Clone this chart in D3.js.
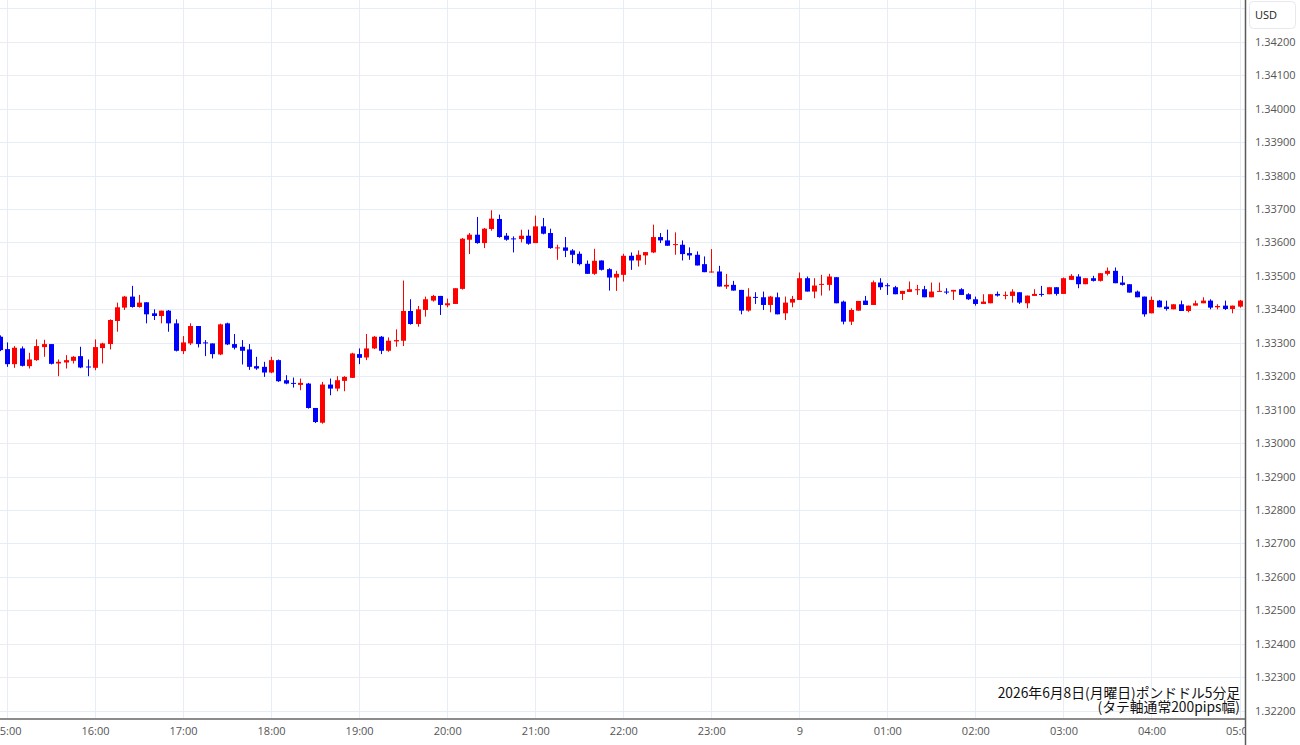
<!DOCTYPE html>
<html>
<head>
<meta charset="utf-8">
<script src="https://cdn.jsdelivr.net/npm/d3@7"></script>
<style>
  body { margin: 0; background: #fff; }
  .axis-label { font-family: "Open Sans", "Noto Sans", sans-serif; font-size: 11px; fill: #555; }
  .note { font-family: "Noto Sans CJK JP", sans-serif; font-size: 13.8px; fill: #111; }
</style>
</head>
<body>
<div id="chart"></div>
<script>
// 5-minute candles, first one at 14:55 (2026-06-08)
const startTime = new Date(2026, 5, 8, 14, 55);

const opens = [
  1.33318, 1.33281, 1.33236, 1.33283, 1.33230, 1.33248, 1.33287, 1.33296, 1.33238, 1.33241,
  1.33246, 1.33260, 1.33229, 1.33225, 1.33284, 1.33296, 1.33365, 1.33405, 1.33438, 1.33407,
  1.33421, 1.33388, 1.33380, 1.33396, 1.33358, 1.33275, 1.33298, 1.33350, 1.33301, 1.33298,
  1.33265, 1.33358, 1.33296, 1.33288, 1.33280, 1.33230, 1.33228, 1.33211, 1.33248, 1.33188,
  1.33180, 1.33174, 1.33178, 1.33105, 1.33061, 1.33175, 1.33163, 1.33186, 1.33195, 1.33266,
  1.33256, 1.33283, 1.33318, 1.33276, 1.33304, 1.33306, 1.33395, 1.33356, 1.33398, 1.33426,
  1.33440, 1.33412, 1.33416, 1.33461, 1.33608, 1.33623, 1.33598, 1.33640, 1.33670, 1.33620,
  1.33612, 1.33610, 1.33620, 1.33598, 1.33648, 1.33628, 1.33583, 1.33585, 1.33576, 1.33566,
  1.33536, 1.33506, 1.33546, 1.33520, 1.33495, 1.33503, 1.33560, 1.33546, 1.33561, 1.33570,
  1.33616, 1.33606, 1.33592, 1.33593, 1.33568, 1.33563, 1.33535, 1.33510, 1.33513, 1.33468,
  1.33473, 1.33458, 1.33396, 1.33437, 1.33436, 1.33413, 1.33436, 1.33388, 1.33420, 1.33428,
  1.33493, 1.33453, 1.33474, 1.33473, 1.33496, 1.33423, 1.33363, 1.33396, 1.33426, 1.33413,
  1.33480, 1.33472, 1.33466, 1.33446, 1.33452, 1.33458, 1.33460, 1.33436, 1.33452, 1.33453,
  1.33453, 1.33460, 1.33445, 1.33430, 1.33416, 1.33418, 1.33446, 1.33441, 1.33440, 1.33451,
  1.33418, 1.33440, 1.33446, 1.33445, 1.33466, 1.33446, 1.33488, 1.33498, 1.33475, 1.33493,
  1.33485, 1.33506, 1.33515, 1.33480, 1.33475, 1.33453, 1.33438, 1.33388, 1.33426, 1.33408,
  1.33400, 1.33415, 1.33395, 1.33411, 1.33418, 1.33426, 1.33406, 1.33411, 1.33401, 1.33408,
  1.33426
];
const highs = [
  1.33322, 1.33301, 1.33290, 1.33289, 1.33270, 1.33310, 1.33309, 1.33296, 1.33250, 1.33263,
  1.33260, 1.33288, 1.33250, 1.33310, 1.33300, 1.33370, 1.33420, 1.33440, 1.33470, 1.33443,
  1.33421, 1.33400, 1.33396, 1.33398, 1.33370, 1.33320, 1.33358, 1.33350, 1.33308, 1.33298,
  1.33357, 1.33360, 1.33326, 1.33308, 1.33296, 1.33258, 1.33243, 1.33258, 1.33250, 1.33203,
  1.33196, 1.33193, 1.33180, 1.33105, 1.33183, 1.33193, 1.33200, 1.33200, 1.33270, 1.33283,
  1.33326, 1.33320, 1.33320, 1.33316, 1.33340, 1.33486, 1.33430, 1.33410, 1.33438, 1.33443,
  1.33440, 1.33432, 1.33463, 1.33613, 1.33628, 1.33676, 1.33643, 1.33696, 1.33683, 1.33628,
  1.33618, 1.33638, 1.33638, 1.33680, 1.33673, 1.33641, 1.33593, 1.33616, 1.33580, 1.33573,
  1.33546, 1.33581, 1.33546, 1.33523, 1.33515, 1.33566, 1.33570, 1.33576, 1.33571, 1.33653,
  1.33628, 1.33638, 1.33630, 1.33606, 1.33585, 1.33573, 1.33558, 1.33580, 1.33530, 1.33506,
  1.33485, 1.33458, 1.33463, 1.33451, 1.33453, 1.33440, 1.33450, 1.33438, 1.33440, 1.33510,
  1.33498, 1.33493, 1.33503, 1.33506, 1.33496, 1.33426, 1.33403, 1.33425, 1.33440, 1.33486,
  1.33493, 1.33478, 1.33470, 1.33455, 1.33483, 1.33473, 1.33470, 1.33480, 1.33480, 1.33463,
  1.33458, 1.33463, 1.33448, 1.33438, 1.33445, 1.33445, 1.33453, 1.33453, 1.33460, 1.33451,
  1.33441, 1.33460, 1.33470, 1.33466, 1.33466, 1.33495, 1.33505, 1.33505, 1.33493, 1.33500,
  1.33508, 1.33525, 1.33525, 1.33500, 1.33475, 1.33456, 1.33438, 1.33438, 1.33428, 1.33426,
  1.33415, 1.33426, 1.33411, 1.33426, 1.33436, 1.33430, 1.33415, 1.33426, 1.33411, 1.33428,
  1.33430
];
const lows = [
  1.33275, 1.33228, 1.33225, 1.33229, 1.33223, 1.33246, 1.33258, 1.33235, 1.33200, 1.33223,
  1.33238, 1.33224, 1.33200, 1.33218, 1.33238, 1.33280, 1.33333, 1.33398, 1.33405, 1.33405,
  1.33358, 1.33368, 1.33358, 1.33333, 1.33274, 1.33266, 1.33293, 1.33286, 1.33260, 1.33253,
  1.33263, 1.33293, 1.33280, 1.33235, 1.33219, 1.33219, 1.33198, 1.33209, 1.33183, 1.33176,
  1.33166, 1.33158, 1.33103, 1.33060, 1.33058, 1.33143, 1.33155, 1.33155, 1.33195, 1.33236,
  1.33248, 1.33281, 1.33266, 1.33273, 1.33288, 1.33290, 1.33354, 1.33348, 1.33378, 1.33423,
  1.33383, 1.33406, 1.33416, 1.33459, 1.33565, 1.33596, 1.33583, 1.33635, 1.33614, 1.33605,
  1.33570, 1.33600, 1.33593, 1.33598, 1.33624, 1.33581, 1.33548, 1.33556, 1.33538, 1.33531,
  1.33506, 1.33503, 1.33516, 1.33456, 1.33455, 1.33483, 1.33518, 1.33528, 1.33533, 1.33568,
  1.33598, 1.33590, 1.33563, 1.33546, 1.33548, 1.33531, 1.33511, 1.33510, 1.33468, 1.33461,
  1.33456, 1.33385, 1.33393, 1.33416, 1.33398, 1.33391, 1.33385, 1.33368, 1.33406, 1.33428,
  1.33453, 1.33433, 1.33441, 1.33456, 1.33418, 1.33355, 1.33353, 1.33396, 1.33413, 1.33413,
  1.33458, 1.33443, 1.33445, 1.33428, 1.33452, 1.33443, 1.33436, 1.33436, 1.33452, 1.33445,
  1.33428, 1.33443, 1.33428, 1.33411, 1.33416, 1.33418, 1.33438, 1.33430, 1.33420, 1.33416,
  1.33403, 1.33440, 1.33438, 1.33445, 1.33441, 1.33446, 1.33488, 1.33463, 1.33475, 1.33483,
  1.33483, 1.33501, 1.33478, 1.33471, 1.33450, 1.33436, 1.33378, 1.33388, 1.33406, 1.33396,
  1.33400, 1.33395, 1.33391, 1.33411, 1.33418, 1.33400, 1.33400, 1.33398, 1.33388, 1.33405,
  1.33415
];
const closes = [
  1.33278, 1.33236, 1.33285, 1.33231, 1.33250, 1.33290, 1.33296, 1.33237, 1.33243, 1.33248,
  1.33258, 1.33226, 1.33228, 1.33287, 1.33298, 1.33368, 1.33406, 1.33438, 1.33407, 1.33420,
  1.33385, 1.33380, 1.33396, 1.33358, 1.33276, 1.33301, 1.33350, 1.33296, 1.33298, 1.33266,
  1.33355, 1.33295, 1.33285, 1.33276, 1.33228, 1.33223, 1.33211, 1.33248, 1.33185, 1.33178,
  1.33179, 1.33180, 1.33105, 1.33063, 1.33175, 1.33163, 1.33188, 1.33198, 1.33268, 1.33255,
  1.33283, 1.33318, 1.33276, 1.33306, 1.33308, 1.33395, 1.33356, 1.33400, 1.33430, 1.33440,
  1.33413, 1.33418, 1.33463, 1.33611, 1.33623, 1.33598, 1.33641, 1.33671, 1.33616, 1.33608,
  1.33610, 1.33620, 1.33596, 1.33648, 1.33626, 1.33583, 1.33585, 1.33575, 1.33563, 1.33535,
  1.33506, 1.33545, 1.33518, 1.33495, 1.33506, 1.33560, 1.33546, 1.33563, 1.33571, 1.33616,
  1.33606, 1.33590, 1.33595, 1.33565, 1.33561, 1.33531, 1.33511, 1.33513, 1.33468, 1.33473,
  1.33456, 1.33396, 1.33438, 1.33435, 1.33413, 1.33438, 1.33385, 1.33420, 1.33431, 1.33493,
  1.33453, 1.33471, 1.33476, 1.33498, 1.33418, 1.33363, 1.33398, 1.33425, 1.33413, 1.33481,
  1.33466, 1.33471, 1.33445, 1.33455, 1.33460, 1.33460, 1.33436, 1.33453, 1.33455, 1.33451,
  1.33458, 1.33443, 1.33430, 1.33416, 1.33423, 1.33445, 1.33441, 1.33443, 1.33453, 1.33420,
  1.33441, 1.33446, 1.33444, 1.33466, 1.33446, 1.33493, 1.33500, 1.33475, 1.33493, 1.33485,
  1.33508, 1.33515, 1.33478, 1.33473, 1.33450, 1.33436, 1.33385, 1.33428, 1.33406, 1.33401,
  1.33415, 1.33395, 1.33411, 1.33418, 1.33426, 1.33405, 1.33410, 1.33401, 1.33411, 1.33426,
  1.33420
];

const priceTicks = d3.range(1.321, 1.3435, 0.001);
const noteLines = ["2026年6月8日(月曜日)ポンドドル5分足", "(タテ軸通常200pips幅)"];

class CandleChart {
  constructor(_config) {
    this.config = {
      parentElement: _config.parentElement,
      containerWidth: 1300,
      containerHeight: 745,
      plotRight: 1245,
      plotBottom: 718,
      bodyWidth: 5,
      upColor: "#ff0000",
      downColor: "#0000ff",
    };
    this.initVis();
  }

  initVis() {
    let vis = this;

    vis.svg = d3
      .select(vis.config.parentElement)
      .append("svg")
      .attr("width", vis.config.containerWidth)
      .attr("height", vis.config.containerHeight);

    // Build candle rows from the arrays
    vis.data = opens.map((o, i) => ({
      time: d3.timeMinute.offset(startTime, i * 5),
      open: o,
      high: highs[i],
      low: lows[i],
      close: closes[i],
    }));

    vis.xScale = d3
      .scaleTime()
      .domain([new Date(2026, 5, 8, 15, 0), new Date(2026, 5, 9, 5, 0)])
      .range([7, 1239.5]);

    vis.yScale = d3.scaleLinear().domain([1.322, 1.342]).range([710.7, 41.7]);

    // clip for the plotting area
    vis.svg
      .append("clipPath")
      .attr("id", "plot-clip")
      .append("rect")
      .attr("width", vis.config.plotRight)
      .attr("height", vis.config.plotBottom);

    vis.svg
      .append("clipPath")
      .attr("id", "xlabel-clip")
      .append("rect")
      .attr("width", vis.config.plotRight)
      .attr("height", vis.config.containerHeight);

    vis.gridG = vis.svg.append("g").attr("clip-path", "url(#plot-clip)");
    vis.candleG = vis.svg.append("g").attr("clip-path", "url(#plot-clip)");

    vis.renderVis();
  }

  renderVis() {
    let vis = this;
    const hours = d3.timeHour.range(vis.xScale.domain()[0], d3.timeMinute.offset(vis.xScale.domain()[1], 1));

    // Gridlines
    vis.gridG
      .selectAll(".vgrid")
      .data(hours)
      .join("line")
      .attr("class", "vgrid")
      .attr("x1", (d) => Math.round(vis.xScale(d)) + 0.5)
      .attr("x2", (d) => Math.round(vis.xScale(d)) + 0.5)
      .attr("y1", 0)
      .attr("y2", vis.config.plotBottom)
      .attr("stroke", "#e7edf4");

    vis.gridG
      .selectAll(".hgrid")
      .data(priceTicks)
      .join("line")
      .attr("class", "hgrid")
      .attr("x1", 0)
      .attr("x2", vis.config.plotRight)
      .attr("y1", (d) => Math.round(vis.yScale(d)) + 0.5)
      .attr("y2", (d) => Math.round(vis.yScale(d)) + 0.5)
      .attr("stroke", "#e7edf4");

    // Candles
    const candle = vis.candleG
      .selectAll(".candle")
      .data(vis.data)
      .join("g")
      .attr("class", "candle")
      .attr("fill", (d) => (d.close >= d.open ? vis.config.upColor : vis.config.downColor))
      .attr("stroke", (d) => (d.close >= d.open ? vis.config.upColor : vis.config.downColor));

    candle
      .append("line")
      .attr("x1", (d) => Math.round(vis.xScale(d.time)) + 0.5)
      .attr("x2", (d) => Math.round(vis.xScale(d.time)) + 0.5)
      .attr("y1", (d) => vis.yScale(d.high))
      .attr("y2", (d) => vis.yScale(d.low))
      .attr("stroke-width", 1);

    candle
      .append("rect")
      .attr("stroke", "none")
      .attr("x", (d) => Math.round(vis.xScale(d.time)) - 2)
      .attr("width", vis.config.bodyWidth)
      .attr("y", (d) => vis.yScale(Math.max(d.open, d.close)))
      .attr("height", (d) => Math.max(1, Math.abs(vis.yScale(d.open) - vis.yScale(d.close))));

    // Bottom axis (time)
    const xAxis = d3
      .axisBottom(vis.xScale)
      .tickValues(hours)
      .tickSize(0)
      .tickPadding(9)
      .tickFormat((d) => (d.getHours() === 0 ? String(d.getDate()) : d3.timeFormat("%H:%M")(d)));

    vis.svg
      .append("g")
      .attr("clip-path", "url(#xlabel-clip)")
      .append("g")
      .attr("transform", `translate(0,${vis.config.plotBottom})`)
      .call(xAxis)
      .call((g) => g.select(".domain").remove())
      .call((g) => g.selectAll("text").attr("class", "axis-label").attr("fill", null));

    // Right axis (price)
    const yAxis = d3
      .axisRight(vis.yScale)
      .tickValues(priceTicks.filter((d) => d > 1.3215 && d < 1.3425))
      .tickSize(0)
      .tickPadding(10)
      .tickFormat(d3.format(".5f"));

    vis.svg
      .append("g")
      .attr("transform", `translate(${vis.config.plotRight},0)`)
      .call(yAxis)
      .call((g) => g.select(".domain").remove())
      .call((g) => g.selectAll("text").attr("class", "axis-label").attr("fill", null));

    // Axis borders
    vis.svg
      .append("line")
      .attr("x1", 0)
      .attr("x2", vis.config.plotRight)
      .attr("y1", vis.config.plotBottom + 1)
      .attr("y2", vis.config.plotBottom + 1)
      .attr("stroke", "#8c8c8c")
      .attr("stroke-width", 2);

    vis.svg
      .append("line")
      .attr("x1", vis.config.plotRight + 0.5)
      .attr("x2", vis.config.plotRight + 0.5)
      .attr("y1", 0)
      .attr("y2", vis.config.containerHeight)
      .attr("stroke", "#5a5a5a")
      .attr("stroke-width", 1.5);

    // Currency badge
    vis.svg
      .append("rect")
      .attr("x", 1249.5)
      .attr("y", 1.5)
      .attr("width", 46)
      .attr("height", 27)
      .attr("rx", 4)
      .attr("fill", "#fff")
      .attr("stroke", "#e6e8ee");

    vis.svg
      .append("text")
      .attr("class", "axis-label")
      .attr("x", 1266)
      .attr("y", 19)
      .attr("text-anchor", "middle")
      .style("fill", "#222")
      .text("USD");

    // Caption in the bottom right corner
    vis.svg
      .selectAll(".note")
      .data(noteLines)
      .join("text")
      .attr("class", "note")
      .attr("x", 1240)
      .attr("y", (d, i) => 698 + i * 14)
      .attr("text-anchor", "end")
      .text((d) => d);
  }
}

new CandleChart({ parentElement: "#chart" });
</script>
</body>
</html>
